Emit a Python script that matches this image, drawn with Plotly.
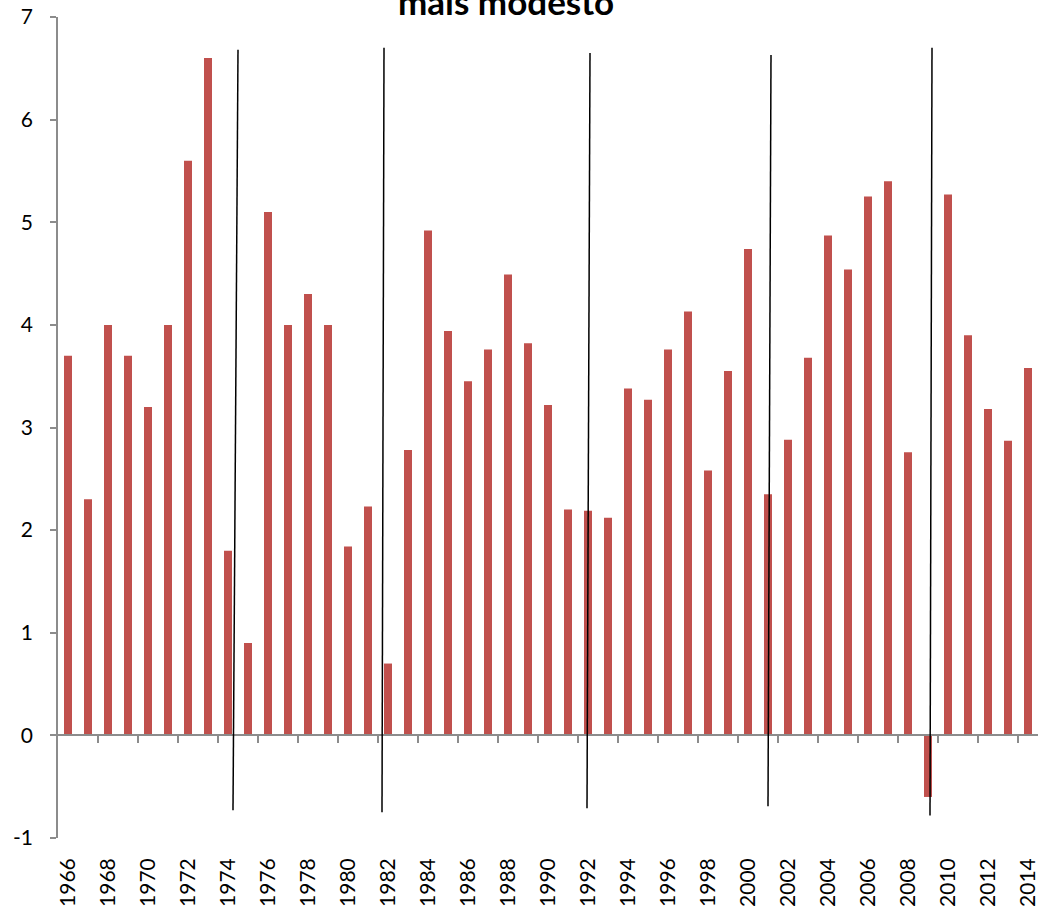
import plotly.graph_objects as go

years = list(range(1966, 2015))
growth = [3.7, 2.3, 4.0, 3.7, 3.2, 4.0, 5.6, 6.6, 1.8, 0.9,
          5.1, 4.0, 4.3, 4.0, 1.84, 2.23, 0.7, 2.78, 4.92, 3.94,
          3.45, 3.76, 4.49, 3.82, 3.22, 2.2, 2.19, 2.12, 3.38, 3.27,
          3.76, 4.13, 2.58, 3.55, 4.74, 2.35, 2.88, 3.68, 4.87, 4.54,
          5.25, 5.40, 2.76, -0.6, 5.27, 3.9, 3.18, 2.87, 3.58]
label_years = [y for y in years if y % 2 == 0]
tick_bounds = [y + 0.5 for y in range(1967, 2014, 2)]
y_ticks = [-1, 0, 1, 2, 3, 4, 5, 6, 7]
y_tick_text = ["-1", "0", "1", "2", "3", "4", "5", "6", "7"]

# hand-drawn cycle separator lines: (x_top, y_top, x_bottom, y_bottom)
separators = [
    (1974.5, 6.68, 1974.25, -0.73),
    (1981.8, 6.70, 1981.7, -0.75),
    (1992.1, 6.65, 1991.95, -0.71),
    (2001.15, 6.63, 2001.0, -0.69),
    (2009.2, 6.70, 2009.1, -0.78),
]
title_text = "mais modesto"

bar_color = "#C0504D"
axis_gray = "#8C8C8C"
font_family = "Lato, Open Sans, sans-serif"

fig = go.Figure()
fig.add_trace(go.Bar(x=years, y=growth, width=0.4,
                     marker=dict(color=bar_color, line=dict(width=0)),
                     hoverinfo="x+y"))
fig.add_trace(go.Scatter(x=years, y=growth, xaxis="x2", mode="markers",
                         marker=dict(opacity=0), hoverinfo="skip",
                         showlegend=False))

for (x0, y0, x1, y1) in separators:
    fig.add_shape(type="line", xref="x", yref="y", x0=x0, y0=y0, x1=x1, y1=y1,
                  line=dict(color="black", width=1.5))

xr = [years[0] - 0.5, years[-1] + 0.5]
fig.update_layout(
    width=1038, height=910,
    margin=dict(l=58, r=0, t=17, b=72),
    paper_bgcolor="white", plot_bgcolor="white",
    showlegend=False,
    font=dict(family=font_family, size=21, color="black"),
    xaxis=dict(range=xr, tickvals=label_years, ticktext=[str(y) for y in label_years],
               tickangle=-90, ticks="", showline=False, showgrid=False,
               zeroline=False, ticklabelstandoff=15, ticklabeloverflow="allow",
               tickfont=dict(size=21, family=font_family)),
    xaxis2=dict(range=xr, overlaying="x", anchor="free", position=0.125,
                tickvals=tick_bounds, ticks="outside", ticklen=7, tickwidth=1.5,
                tickcolor=axis_gray, showline=True, linecolor=axis_gray,
                linewidth=1.5, showticklabels=False, showgrid=False,
                zeroline=False, side="bottom"),
    yaxis=dict(range=[-1, 7], tickvals=y_ticks, ticktext=y_tick_text,
               ticks="outside", ticklen=6, tickwidth=1.5,
               tickcolor=axis_gray, showline=True, linecolor=axis_gray,
               linewidth=1.5, showgrid=False, zeroline=False,
               ticklabelstandoff=13,
               tickfont=dict(size=21, family=font_family)),
    bargap=0.6,
)

fig.add_annotation(text="<b>" + title_text + "</b>", xref="paper", yref="paper",
                   x=0.457, y=1, yanchor="bottom", xanchor="center",
                   yshift=-7, showarrow=False,
                   font=dict(family="Lato, Open Sans, sans-serif", size=35, color="black"))

fig.write_html("out.html", config={"displayModeBar": False},
               post_script="document.body.style.margin='0';document.body.style.overflow='hidden';")
